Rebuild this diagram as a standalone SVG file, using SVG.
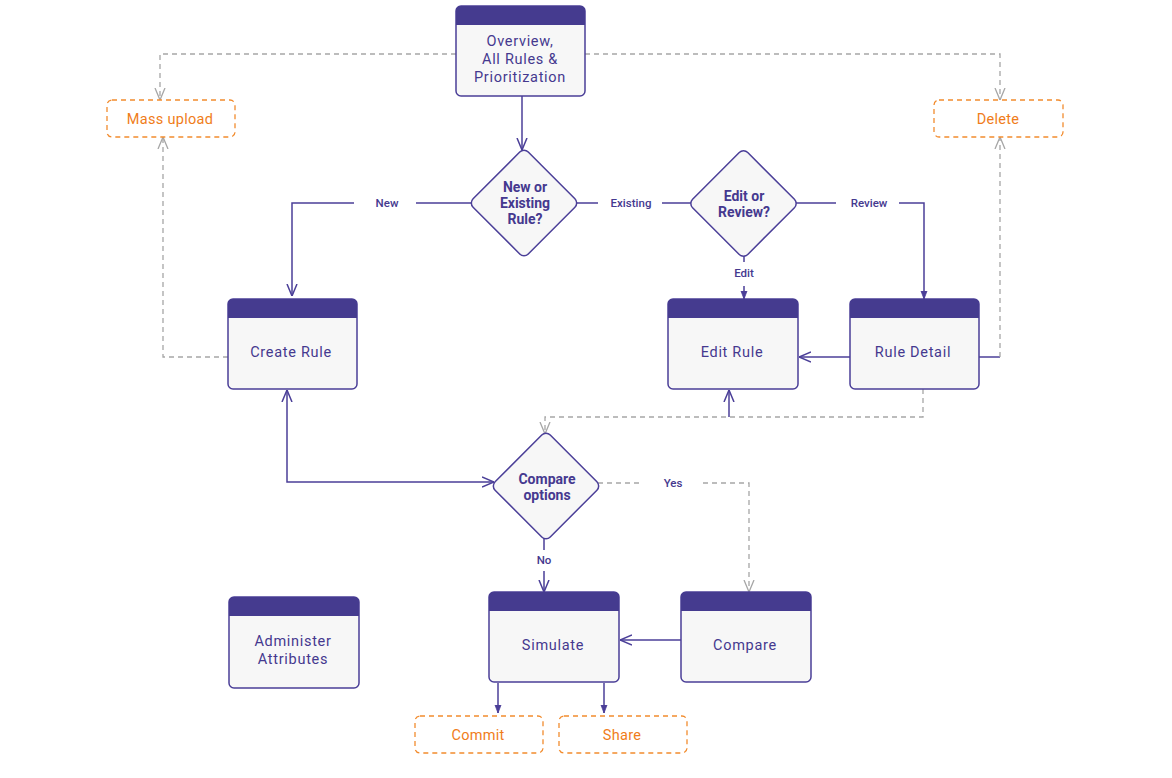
<svg xmlns="http://www.w3.org/2000/svg" width="1172" height="778" viewBox="0 0 1172 778">
<defs>
<style>
.box{fill:#f7f7f7;stroke:#4b3f98;stroke-width:1.5}
.hdr{fill:#453b8f}
.nt{font-family:Roboto,"Liberation Sans",sans-serif;font-size:14.5px;fill:#45398f;text-anchor:middle;letter-spacing:0.7px}
.dt{font-family:Roboto,"Liberation Sans",sans-serif;font-size:14px;font-weight:bold;fill:#45398f;text-anchor:middle}
.lt{font-family:Roboto,"Liberation Sans",sans-serif;font-size:11.5px;font-weight:500;fill:#45398f;text-anchor:middle}
.ob{fill:#fff;stroke:#f28c2e;stroke-width:1.3;stroke-dasharray:5 4}
.ot{font-family:Roboto,"Liberation Sans",sans-serif;font-size:14.5px;fill:#f07d1a;text-anchor:middle;letter-spacing:0.3px}
.sl{fill:none;stroke:#4b3f98;stroke-width:1.5}
.gl{fill:none;stroke:#a6a6a6;stroke-width:1.3;stroke-dasharray:5 4}
</style>
<marker id="av" viewBox="0 0 12 12" refX="12" refY="6" markerWidth="12" markerHeight="12" markerUnits="userSpaceOnUse" orient="auto-start-reverse">
<path d="M0,1 L12,6 L0,11" fill="none" stroke="#4b3f98" stroke-width="1.5"/>
</marker>
<marker id="as" viewBox="0 0 8 8" refX="8" refY="4" markerWidth="8" markerHeight="8" markerUnits="userSpaceOnUse" orient="auto">
<path d="M0,1 L8,4 L0,7 Z" fill="#4b3f98" stroke="#4b3f98" stroke-width="0.8"/>
</marker>
<marker id="ag" viewBox="0 0 12 12" refX="12" refY="6" markerWidth="12" markerHeight="12" markerUnits="userSpaceOnUse" orient="auto">
<path d="M0,1 L12,6 L0,11" fill="none" stroke="#a6a6a6" stroke-width="1.3"/>
</marker>
</defs>
<rect width="1172" height="778" fill="#ffffff"/>

<g id="connectors">
<path class="sl" d="M522,96 V150" marker-end="url(#av)"/>
<path class="gl" d="M456,54 H160 V100" marker-end="url(#ag)"/>
<path class="gl" d="M585,54 H1000 V100" marker-end="url(#ag)"/>
<path class="sl" d="M472,203 H416 M354,203 H292 V296" marker-end="url(#av)"/>
<path class="sl" d="M577,203 H598 M662,203 H691"/>
<path class="sl" d="M796,203 H836 M899,203 H924 V299" marker-end="url(#as)"/>
<path class="sl" d="M744,256 V262 M744,286 V299" marker-end="url(#as)"/>
<path class="sl" d="M850,357 H799" marker-end="url(#av)"/>
<path class="sl" d="M979,357 H1000"/>
<path class="gl" d="M1000,357 V137" marker-end="url(#ag)"/>
<path class="gl" d="M228,357 H163 V137" marker-end="url(#ag)"/>
<path class="gl" d="M923,389 V417 H545 V434" marker-end="url(#ag)"/>
<path class="sl" d="M729,417 V390" marker-end="url(#av)"/>
<path class="sl" d="M287,390 V482 H494" marker-start="url(#av)" marker-end="url(#av)"/>
<path class="gl" d="M598,483 H642 M703,483 H749 V592" marker-end="url(#ag)"/>
<path class="sl" d="M544,538 V550 M544,571 V592" marker-end="url(#av)"/>
<path class="sl" d="M681,640 H620" marker-end="url(#av)"/>
<path class="sl" d="M498,683 V713" marker-end="url(#as)"/>
<path class="sl" d="M604,683 V713" marker-end="url(#as)"/>
<text class="lt" x="387" y="207">New</text>
<text class="lt" x="631" y="207">Existing</text>
<text class="lt" x="869" y="207">Review</text>
<text class="lt" x="744" y="277">Edit</text>
<text class="lt" x="673" y="487">Yes</text>
<text class="lt" x="544" y="564">No</text>
</g>

<g id="overview">
<rect class="box" x="456" y="6" width="129" height="90" rx="5"/>
<path class="hdr" d="M456,25 V11 Q456,6 461,6 H580 Q585,6 585,11 V25 Z"/>
<text class="nt" x="520" y="46">Overview,</text>
<text class="nt" x="520" y="64">All Rules &amp;</text>
<text class="nt" x="520" y="82">Prioritization</text>
</g>

<g id="mass-upload">
<rect class="ob" x="107" y="100" width="128" height="37" rx="5"/>
<text class="ot" x="170" y="124">Mass upload</text>
</g>

<g id="delete">
<rect class="ob" x="934" y="100" width="129" height="37" rx="5"/>
<text class="ot" x="998" y="124">Delete</text>
</g>

<g id="new-or-existing">
<rect class="box" x="-39" y="-39" width="78" height="78" rx="6" transform="translate(524,203) rotate(45)"/>
<text class="dt" x="525" y="192">New or</text>
<text class="dt" x="525" y="208">Existing</text>
<text class="dt" x="525" y="224">Rule?</text>
</g>

<g id="edit-or-review">
<rect class="box" x="-39" y="-39" width="78" height="78" rx="6" transform="translate(743.5,203.5) rotate(45)"/>
<text class="dt" x="744" y="201">Edit or</text>
<text class="dt" x="744" y="217">Review?</text>
</g>

<g id="create-rule">
<rect class="box" x="228" y="299" width="129" height="90" rx="5"/>
<path class="hdr" d="M228,318 V304 Q228,299 233,299 H352 Q357,299 357,304 V318 Z"/>
<text class="nt" x="291" y="357">Create Rule</text>
</g>

<g id="edit-rule">
<rect class="box" x="668" y="299" width="130" height="90" rx="5"/>
<path class="hdr" d="M668,318 V304 Q668,299 673,299 H793 Q798,299 798,304 V318 Z"/>
<text class="nt" x="732" y="357">Edit Rule</text>
</g>

<g id="rule-detail">
<rect class="box" x="850" y="299" width="129" height="90" rx="5"/>
<path class="hdr" d="M850,318 V304 Q850,299 855,299 H974 Q979,299 979,304 V318 Z"/>
<text class="nt" x="913" y="357">Rule Detail</text>
</g>

<g id="compare-options">
<rect class="box" x="-39" y="-39" width="78" height="78" rx="6" transform="translate(546,486) rotate(45)"/>
<text class="dt" x="547" y="484">Compare</text>
<text class="dt" x="547" y="500">options</text>
</g>

<g id="administer-attributes">
<rect class="box" x="229" y="597" width="130" height="91" rx="5"/>
<path class="hdr" d="M229,616 V602 Q229,597 234,597 H354 Q359,597 359,602 V616 Z"/>
<text class="nt" x="293" y="646">Administer</text>
<text class="nt" x="293" y="664">Attributes</text>
</g>

<g id="simulate">
<rect class="box" x="489" y="592" width="130" height="90" rx="5"/>
<path class="hdr" d="M489,611 V597 Q489,592 494,592 H614 Q619,592 619,597 V611 Z"/>
<text class="nt" x="553" y="650">Simulate</text>
</g>

<g id="compare">
<rect class="box" x="681" y="592" width="130" height="90" rx="5"/>
<path class="hdr" d="M681,611 V597 Q681,592 686,592 H806 Q811,592 811,597 V611 Z"/>
<text class="nt" x="745" y="650">Compare</text>
</g>

<g id="commit">
<rect class="ob" x="415" y="716" width="128" height="37" rx="5"/>
<text class="ot" x="478" y="740">Commit</text>
</g>

<g id="share">
<rect class="ob" x="559" y="716" width="128" height="37" rx="5"/>
<text class="ot" x="622" y="740">Share</text>
</g>
</svg>
